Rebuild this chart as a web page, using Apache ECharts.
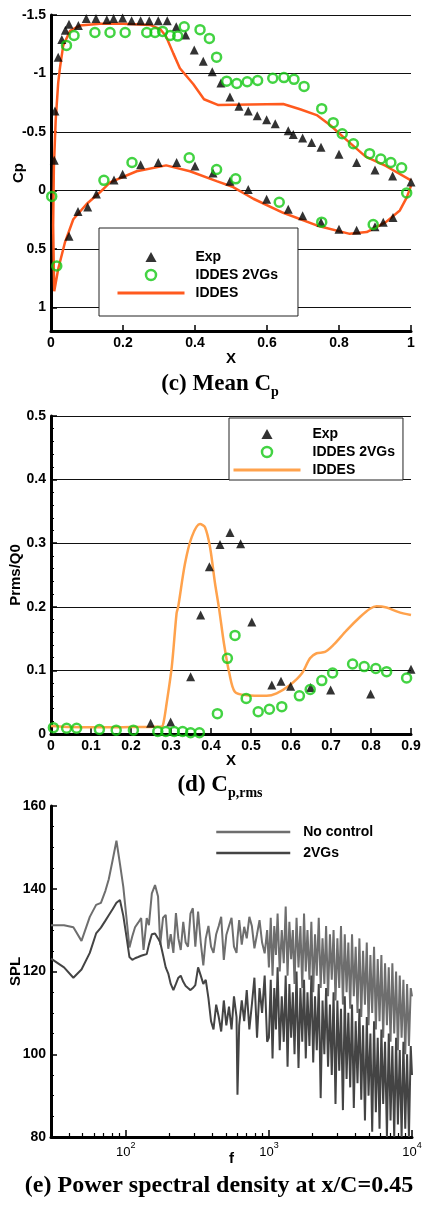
<!DOCTYPE html>
<html>
<head>
<meta charset="utf-8">
<script src="https://cdn.jsdelivr.net/npm/echarts@6/dist/echarts.min.js"></script>
<style>
  html, body { margin: 0; padding: 0; background: #fff; }
  #main { width: 422px; height: 1205px; }
</style>
</head>
<body>
<div id="main"></div>
<script>
// (c) mean Cp : [x, Cp]
const cpExp = [
  [0.009,-0.26],[0.011,-0.68],[0.02,-1.14],[0.03,-1.29],[0.04,-1.37],[0.05,-1.42],[0.076,-1.41],[0.098,-1.47],
  [0.125,-1.47],[0.155,-1.46],[0.174,-1.47],[0.199,-1.475],[0.224,-1.45],[0.249,-1.45],[0.273,-1.45],[0.298,-1.45],
  [0.323,-1.45],[0.348,-1.4],[0.374,-1.33],[0.398,-1.2],[0.423,-1.105],[0.448,-1.015],[0.472,-0.92],[0.497,-0.8],
  [0.522,-0.72],[0.548,-0.68],[0.573,-0.64],[0.599,-0.605],[0.623,-0.57],[0.659,-0.51],[0.673,-0.48],[0.699,-0.45],
  [0.724,-0.41],[0.75,-0.37],[0.8,-0.31],[0.849,-0.24],[0.9,-0.175],[0.949,-0.124],[1.0,-0.073],
  [0.05,0.39],[0.075,0.18],[0.102,0.14],[0.126,0.03],[0.175,-0.09],[0.199,-0.14],[0.249,-0.22],[0.298,-0.24],
  [0.349,-0.24],[0.4,-0.21],[0.45,-0.15],[0.497,-0.08],[0.548,-0.01],[0.599,0.075],[0.659,0.16],[0.699,0.215],
  [0.75,0.27],[0.8,0.33],[0.849,0.34],[0.9,0.31],[0.923,0.27],[0.95,0.23]
];
const cpVGs = [
  [0.002,0.05],[0.016,0.645],[0.043,-1.24],[0.064,-1.325],[0.122,-1.35],[0.164,-1.35],[0.206,-1.35],[0.266,-1.35],
  [0.289,-1.35],[0.31,-1.36],[0.331,-1.325],[0.352,-1.32],[0.37,-1.4],[0.414,-1.375],[0.44,-1.3],[0.46,-1.14],
  [0.488,-0.935],[0.516,-0.915],[0.545,-0.93],[0.574,-0.94],[0.616,-0.96],[0.647,-0.965],[0.675,-0.95],[0.703,-0.89],
  [0.752,-0.7],[0.784,-0.58],[0.809,-0.485],[0.84,-0.4],[0.885,-0.315],[0.916,-0.27],[0.944,-0.24],[0.974,-0.195],
  [0.988,0.02],
  [0.147,-0.087],[0.225,-0.24],[0.384,-0.28],[0.46,-0.18],[0.513,-0.1],[0.634,0.1],[0.752,0.27],[0.895,0.29]
];
const cpIddes = [
  [1.0,-0.087],[0.93,-0.21],[0.874,-0.29],[0.82,-0.435],[0.775,-0.56],[0.738,-0.645],[0.692,-0.695],[0.645,-0.74],
  [0.553,-0.735],[0.465,-0.73],[0.425,-0.78],[0.395,-0.91],[0.358,-1.045],[0.34,-1.17],[0.319,-1.32],[0.303,-1.38],
  [0.275,-1.415],[0.2,-1.425],[0.136,-1.425],[0.08,-1.41],[0.053,-1.365],[0.034,-1.24],[0.025,-1.05],[0.02,-0.92],
  [0.013,-0.6],[0.008,-0.2],[0.006,0.3],[0.008,0.7],[0.009,0.86],[0.02,0.67],[0.039,0.44],[0.062,0.245],
  [0.099,0.115],[0.136,0.015],[0.164,-0.07],[0.238,-0.165],[0.32,-0.215],[0.386,-0.165],[0.46,-0.08],[0.506,-0.03],
  [0.562,0.07],[0.645,0.19],[0.74,0.3],[0.83,0.37],[0.877,0.355],[0.93,0.27],[0.969,0.17],[0.988,0.06],[1.0,-0.04]
];

// (d) Cp,rms : [x, Prms/Q0]
const rmsExp = [
  [0.249,0.017],[0.299,0.019],[0.349,0.09],[0.374,0.187],[0.396,0.263],[0.4225,0.298],[0.4475,0.317],[0.474,0.299],
  [0.502,0.176],[0.552,0.077],[0.575,0.083],[0.599,0.075],[0.649,0.073],[0.699,0.069],[0.799,0.063],[0.9,0.102]
];
const rmsVGs = [
  [0.006,0.01],[0.039,0.009],[0.064,0.009],[0.121,0.007],[0.163,0.006],[0.206,0.006],[0.267,0.004],[0.287,0.004],
  [0.308,0.004],[0.329,0.004],[0.349,0.002],[0.371,0.002],[0.416,0.032],[0.441,0.119],[0.46,0.155],[0.488,0.056],
  [0.518,0.035],[0.546,0.039],[0.577,0.043],[0.621,0.06],[0.648,0.07],[0.677,0.084],[0.704,0.096],[0.754,0.11],
  [0.783,0.106],[0.812,0.103],[0.839,0.098],[0.889,0.088]
];
const rmsIddes = [
  [0,0.0126],[0.05,0.011],[0.1,0.0105],[0.15,0.0105],[0.2,0.011],[0.25,0.0112],[0.276,0.0115],[0.281,0.017],
  [0.289,0.048],[0.302,0.106],[0.314,0.19],[0.318,0.2],[0.335,0.268],[0.352,0.31],[0.3725,0.33],[0.385,0.325],
  [0.3975,0.294],[0.41,0.237],[0.42,0.198],[0.4325,0.142],[0.446,0.095],[0.46,0.066],[0.489,0.061],[0.539,0.06],
  [0.564,0.064],[0.5975,0.077],[0.627,0.095],[0.6475,0.119],[0.664,0.127],[0.685,0.129],[0.706,0.14],[0.739,0.163],
  [0.7725,0.184],[0.7975,0.197],[0.814,0.201],[0.839,0.199],[0.8675,0.192],[0.9,0.187]
];

// (e) PSD at x/C=0.45
const psdFreq = [
  30,37,43,49,56,62,67,72,76,81,86,91,96,
  101,106,111,116,122,128,133,140,145,152,160,168,174,182,190,198,206,215,224,233,242,252,262,272,283,294,
  306,320,334,348,362,378,394,410,428,446,464,484,504,526,548,570,594,603,620,646,672,700,730,760,792,826,860,896,934,972,
  1000,1030,1060,1090,1120,1150,1190,1230,1270,1310,1350,1390,1430,1470,1510,1560,1610,1660,1710,1760,
  1810,1860,1920,1980,2040,2100,2160,2230,2300,2370,2440,2510,2590,2670,2750,2830,2920,3010,3100,3190,
  3290,3390,3490,3590,3700,3810,3920,4040,4160,4290,4420,4550,4690,4830,4970,5120,5270,5430,5590,5760,
  5930,6110,6290,6480,6680,6880,7080,7290,7510,7740,7970,8210,8460,8710,8970,9240,9520,9800,10000
];
const psdNoControl = [
  131.2,131.2,130.7,127.4,133.2,136.1,136.6,139.5,142.3,147,151.6,146,140.5,
  133,125.8,128.5,130.7,131.8,132.9,125.2,132.9,131.2,138.9,140.9,138.1,126.5,133,133.7,125.5,129,124.5,134.1,128,125.2,132,127,126,134,135.3,
  126,134.5,127,121.5,128,131,126,124.5,129,131,133.2,122.8,128.8,131,133,126,124.5,128,132.4,126.5,130.8,128,133.2,131,125.6,129,132.4,127,124.4,130,
  121,133,119,131,124,134,120,130,122,135.7,
  119,132,123,130,117,133,121,131,116,134,
  120,130,118,132,115,129,119,133,116,128,
  117,131,114,129,118,130,113,128,116,131,
  112,129,115,127,111,129,114,126,110,128,
  109,125,112,127,107,124,110,126,106,123,
  108,124,104,122,107,121,103,122,105,120,
  101,119,104,118,100,117,102,116,114
];
const psdVGs = [
  123.1,121,118.5,120.5,124.5,129.2,130.6,132.3,133.6,135.1,136.6,137.3,133.5,
  128.5,123.5,122.8,123.2,123.5,123.8,124,124.2,126.5,129,129.2,128,127,124,121,119.5,117,115.5,117,118.5,119,117.5,116.5,116,115.5,116,
  116.7,121,119,117,118,113.5,108,106,112,109,105.5,113,107,111.5,106,114,109,90.2,107,113,108,115.5,106,112,118.5,104,116,110,119,103,
  104,118,99,116,106,121,101,114,103,119,
  97,117,104,115,100,120,96.7,116,103,118,
  99,115,102,119,98,114,101,117,89.4,113,
  100,116,97,112,95,115,88,113,96,111,
  86.5,114,94,110,92,112,87,108,93,111,
  89,107,84,109,90,105,81.3,108,86,104,
  82,106,88,103,80,105,84,102,80,104,
  83,101,80,103,82,100,80,102,95
];
const psdMajorTicks = [100, 1000, 10000];
const psdMinorTicks = [40,50,60,70,80,90,200,300,400,500,600,700,800,900,2000,3000,4000,5000,6000,7000,8000,9000];

const black = '#000';
const sans = 'Liberation Sans';
const serif = 'Liberation Serif';
const orangeC = '#ff5a1e';
const orangeD = '#ffa24c';
const green = '#14c814';
const noSymbol = { color: 'rgba(0,0,0,0)', borderWidth: 0, opacity: 0 };
const triIcon = 'path://M5,0L10,9L0,9Z';

const chart = echarts.init(document.getElementById('main'), null, { renderer: 'canvas' });

function valueAxis(extra) {
  return Object.assign({
    type: 'value',
    axisLine: { show: true, onZero: false, lineStyle: { color: black, width: 3 } },
    axisTick: { show: true, inside: true, length: 6, lineStyle: { color: black, width: 1.5 } },
    axisLabel: { color: black, fontFamily: sans, fontWeight: 'bold', fontSize: 14, margin: 5 },
    nameTextStyle: { color: black, fontFamily: sans, fontWeight: 'bold', fontSize: 15 },
    nameLocation: 'middle',
    nameMoveOverlap: false,
    splitLine: { show: false }
  }, extra);
}
const gridLines = { show: true, lineStyle: { color: '#111', width: 1 } };

function subTitle(main, sub, top) {
  return {
    text: '{m|' + main + '}{s|' + sub + '}',
    left: 220, top: top, textAlign: 'center', padding: 0,
    textStyle: {
      rich: {
        m: { fontFamily: serif, fontWeight: 'bold', fontSize: 23, color: black, lineHeight: 26, verticalAlign: 'top' },
        s: { fontFamily: serif, fontWeight: 'bold', fontSize: 14, color: black, lineHeight: 15, verticalAlign: 'bottom', padding: [12, 0, 0, 0] }
      }
    }
  };
}

function boxLegend(prefix, left, top, padding, textPad) {
  return {
    show: true, orient: 'vertical', left: left, top: top, padding: padding,
    itemWidth: 67, itemHeight: 10, itemGap: 4, z: 10, symbolKeepAspect: true,
    backgroundColor: '#fff', borderColor: '#222', borderWidth: 1,
    selectedMode: false,
    formatter: n => n.split(':')[1],
    textStyle: { color: black, fontFamily: sans, fontWeight: 'bold', fontSize: 14, lineHeight: 14, padding: [0, 0, 0, textPad] },
    data: [
      { name: prefix + ':Exp', icon: triIcon },
      { name: prefix + ':IDDES 2VGs', itemStyle: { color: 'rgba(0,0,0,0)', borderColor: green, borderWidth: 2.5 } },
      { name: prefix + ':IDDES', lineStyle: { width: 3 }, itemStyle: noSymbol }
    ]
  };
}

const option = {
  animation: false,
  backgroundColor: '#fff',
  title: [
    subTitle('(c) Mean C', 'p', 373),
    subTitle('(d) C', 'p,rms', 774),
    {
      text: '(e) Power spectral density at x/C=0.45',
      left: 219, top: 1174, textAlign: 'center', padding: 0,
      textStyle: { fontFamily: serif, fontWeight: 'bold', fontSize: 24, color: black }
    }
  ],
  legend: [
    boxLegend('c', 99, 228, [22, 20, 16, 17], 6),
    boxLegend('d', 229, 418, [9, 8, 3, 3], 7),
    {
      show: true, orient: 'vertical', left: 215, top: 825, padding: 0,
      itemWidth: 74, itemHeight: 10, itemGap: 7, selectedMode: false,
      formatter: n => n.split(':')[1],
      textStyle: { color: black, fontFamily: sans, fontWeight: 'bold', fontSize: 14, lineHeight: 14, padding: [0, 0, 0, 8] },
      data: [
        { name: 'e:No control', lineStyle: { width: 2.5 }, itemStyle: noSymbol },
        { name: 'e:2VGs', lineStyle: { width: 2.5 }, itemStyle: noSymbol }
      ]
    }
  ],
  grid: [
    { left: 51, right: 11, top: 15, height: 316, outerBoundsMode: 'none' },
    { left: 51, right: 11, top: 416, height: 318, outerBoundsMode: 'none' },
    { left: 51, right: 10, top: 806, height: 331, outerBoundsMode: 'none' }
  ],
  xAxis: [
    valueAxis({ gridIndex: 0, min: 0, max: 1, interval: 0.2, name: 'X', nameGap: 20 }),
    valueAxis({ gridIndex: 1, min: 0, max: 0.9, interval: 0.1, name: 'X', nameGap: 19 }),
    valueAxis({
      gridIndex: 2, type: 'log', logBase: 10, min: 30, max: 10000, name: 'f', nameGap: 14,
      axisTick: { show: true, inside: true, length: 7, customValues: psdMajorTicks, lineStyle: { color: black, width: 1.5 } },
      axisLabel: {
        customValues: psdMajorTicks, margin: 4,
        formatter: v => '{b|10}{p|' + Math.round(Math.log10(v)) + '}',
        rich: {
          b: { fontFamily: sans, fontSize: 13, color: black, lineHeight: 18, verticalAlign: 'bottom' },
          p: { fontFamily: sans, fontSize: 9, color: black, lineHeight: 10, verticalAlign: 'top' }
        }
      }
    }),
    valueAxis({
      gridIndex: 2, type: 'log', logBase: 10, min: 30, max: 10000, position: 'bottom',
      axisLine: { show: false },
      axisLabel: { show: false },
      axisTick: { show: true, inside: true, length: 4, customValues: psdMinorTicks, lineStyle: { color: black, width: 1.2 } }
    })
  ],
  yAxis: [
    valueAxis({
      gridIndex: 0, inverse: true, min: -1.5, max: 1.2, interval: 0.5, name: 'Cp', nameGap: 25,
      splitLine: gridLines,
      axisLabel: { color: black, fontFamily: sans, fontWeight: 'bold', fontSize: 14, margin: 5,
        formatter: v => (Math.abs(v * 2 - Math.round(v * 2)) < 1e-6 ? String(v) : '') }
    }),
    valueAxis({
      gridIndex: 1, min: 0, max: 0.5, interval: 0.1, name: 'Prms/Q0', nameGap: 28,
      splitLine: gridLines,
      minorTick: { show: true, splitNumber: 5, length: 3, lineStyle: { color: black, width: 1 } }
    }),
    valueAxis({
      gridIndex: 2, min: 80, max: 160, interval: 20, name: 'SPL', nameGap: 28,
      minorTick: { show: true, splitNumber: 4, length: 3, lineStyle: { color: black, width: 1 } }
    })
  ],
  series: [
    {
      name: 'c:IDDES', type: 'line', xAxisIndex: 0, yAxisIndex: 0, data: cpIddes,
      symbol: 'none', lineStyle: { color: orangeC, width: 2.5 }, itemStyle: { color: orangeC }, z: 2
    },
    {
      name: 'c:Exp', type: 'scatter', xAxisIndex: 0, yAxisIndex: 0, data: cpExp,
      symbol: 'triangle', symbolSize: 9, itemStyle: { color: black }, z: 3
    },
    {
      name: 'c:IDDES 2VGs', type: 'scatter', xAxisIndex: 0, yAxisIndex: 0, data: cpVGs,
      symbol: 'circle', symbolSize: 9,
      itemStyle: { color: 'rgba(0,0,0,0)', borderColor: green, borderWidth: 2.5 }, z: 4
    },
    {
      name: 'd:IDDES', type: 'line', xAxisIndex: 1, yAxisIndex: 1, data: rmsIddes, smooth: 0.3,
      symbol: 'none', lineStyle: { color: orangeD, width: 2.5 }, itemStyle: { color: orangeD }, z: 2
    },
    {
      name: 'd:Exp', type: 'scatter', xAxisIndex: 1, yAxisIndex: 1, data: rmsExp,
      symbol: 'triangle', symbolSize: 9, itemStyle: { color: black }, z: 3
    },
    {
      name: 'd:IDDES 2VGs', type: 'scatter', xAxisIndex: 1, yAxisIndex: 1, data: rmsVGs,
      symbol: 'circle', symbolSize: 9,
      itemStyle: { color: 'rgba(0,0,0,0)', borderColor: green, borderWidth: 2.5 }, z: 4
    },
    {
      name: 'e:No control', type: 'line', xAxisIndex: 2, yAxisIndex: 2,
      data: psdFreq.map((f, i) => [f, psdNoControl[i]]),
      symbol: 'none', lineStyle: { color: '#6e6e6e', width: 2 }, itemStyle: { color: '#6e6e6e' }, z: 2
    },
    {
      name: 'e:2VGs', type: 'line', xAxisIndex: 2, yAxisIndex: 2,
      data: psdFreq.map((f, i) => [f, psdVGs[i]]),
      symbol: 'none', lineStyle: { color: '#444', width: 2 }, itemStyle: { color: '#444' }, z: 3
    }
  ]
};
chart.setOption(option);
</script>
</body>
</html>
